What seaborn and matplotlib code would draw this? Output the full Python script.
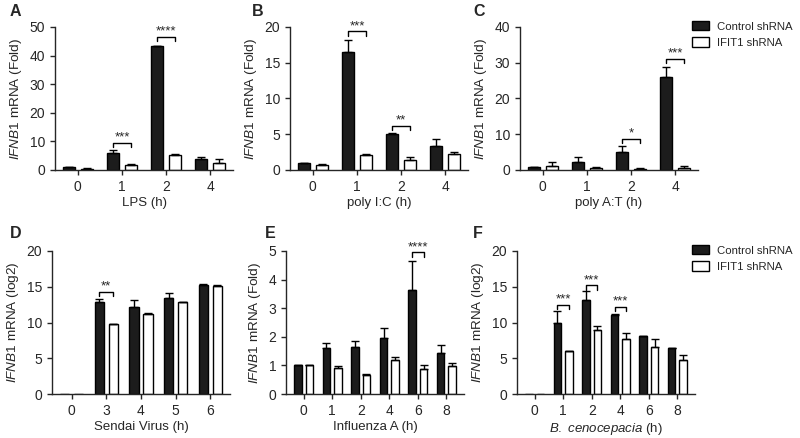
import pandas as pd
import matplotlib
matplotlib.use("Agg")
import matplotlib.pyplot as plt
from matplotlib.patches import Patch
import seaborn as sns

# group names
groups = ["Control shRNA", "IFIT1 shRNA"]

# A: LPS
lps_time = ["0", "1", "2", "4"]
lps_ctrl = [1.0, 6.0, 43.2, 4.0]
lps_ctrl_err = [0.0, 1.0, 0.3, 0.5]
lps_ifit = [0.5, 1.8, 5.2, 2.6]
lps_ifit_err = [0.1, 0.3, 0.3, 1.2]
lps_sig = [(1, 9.5, "***"), (2, 46.5, "****")]

# B: poly I:C
pic_time = ["0", "1", "2", "4"]
pic_ctrl = [1.0, 16.5, 5.1, 3.4]
pic_ctrl_err = [0.0, 1.7, 0.1, 0.9]
pic_ifit = [0.7, 2.1, 1.4, 2.3]
pic_ifit_err = [0.2, 0.2, 0.4, 0.2]
pic_sig = [(1, 19.4, "***"), (2, 6.2, "**")]

# C: poly A:T
pat_time = ["0", "1", "2", "4"]
pat_ctrl = [0.8, 2.1, 5.1, 26.0]
pat_ctrl_err = [0.0, 1.5, 1.5, 2.8]
pat_ifit = [1.2, 0.5, 0.3, 0.5]
pat_ifit_err = [1.0, 0.3, 0.2, 0.6]
pat_sig = [(2, 8.7, "*"), (3, 31.0, "***")]

# D: Sendai virus
sev_time = ["0", "3", "4", "5", "6"]
sev_ctrl = [0.0, 12.8, 12.1, 13.4, 15.3]
sev_ctrl_err = [0.0, 0.5, 1.0, 0.7, 0.05]
sev_ifit = [0.0, 9.8, 11.2, 12.8, 15.1]
sev_ifit_err = [0.0, 0.05, 0.1, 0.1, 0.1]
sev_sig = [(1, 14.3, "**")]

# E: Influenza A
flu_time = ["0", "1", "2", "4", "6", "8"]
flu_ctrl = [1.0, 1.6, 1.65, 1.95, 3.65, 1.45]
flu_ctrl_err = [0.0, 0.2, 0.2, 0.35, 1.0, 0.25]
flu_ifit = [1.0, 0.92, 0.67, 1.18, 0.88, 0.97]
flu_ifit_err = [0.0, 0.05, 0.03, 0.1, 0.15, 0.12]
flu_sig = [(4, 4.95, "****")]

# F: B. cenocepacia
bcen_time = ["0", "1", "2", "4", "6", "8"]
bcen_ctrl = [0.0, 10.0, 13.1, 11.05, 8.05, 6.4]
bcen_ctrl_err = [0.0, 1.6, 1.3, 0.2, 0.05, 0.0]
bcen_ifit = [0.0, 5.95, 8.9, 7.7, 6.6, 4.8]
bcen_ifit_err = [0.0, 0.0, 0.6, 0.8, 1.1, 0.6]
bcen_sig = [(1, 12.45, "***"), (2, 15.2, "***"), (3, 12.2, "***")]

sns.set_style("ticks")
plt.rcParams["font.family"] = ["Liberation Sans", "DejaVu Sans"]
plt.rcParams["mathtext.fontset"] = "custom"
plt.rcParams["mathtext.rm"] = "Liberation Sans"
plt.rcParams["mathtext.it"] = "Liberation Sans:italic"
plt.rcParams["axes.linewidth"] = 1.0
plt.rcParams["xtick.major.width"] = 1.0
plt.rcParams["ytick.major.width"] = 1.0
plt.rcParams["xtick.major.size"] = 3.5
plt.rcParams["ytick.major.size"] = 3.5

palette = {"Control shRNA": "#1c1c1c", "IFIT1 shRNA": "white"}


def draw_panel(ax, times, ctrl, ctrl_err, ifit, ifit_err, ymax, ystep,
               ylabel, xlabel, sig):
    df = pd.DataFrame({
        "time": times * 2,
        "group": [groups[0]] * len(times) + [groups[1]] * len(times),
        "value": ctrl + ifit,
    })
    sns.barplot(data=df, x="time", y="value", hue="group", order=times,
                hue_order=groups, palette=palette, edgecolor="black",
                linewidth=1.0, errorbar=None, gap=0.33, legend=False, ax=ax)

    # one-sided error bars
    centres = []
    for cont, vals, errs in zip(ax.containers, [ctrl, ifit], [ctrl_err, ifit_err]):
        xs = []
        for patch, v, e in zip(cont.patches, vals, errs):
            x = patch.get_x() + patch.get_width() / 2
            xs.append(x)
            if v > 0:
                ax.errorbar(x, v, yerr=[[0], [e]], color="black", lw=1.0,
                            capsize=3, capthick=1.0, zorder=1)
        centres.append(xs)

    # significance brackets
    d = ymax * 0.03
    for i, h, stars in sig:
        x1, x2 = centres[0][i], centres[1][i]
        ax.plot([x1, x1, x2, x2], [h - d, h, h, h - d], color="black",
                lw=1.0, clip_on=False)
        ax.text((x1 + x2) / 2, h - ymax * 0.005, stars, ha="center",
                va="bottom", fontsize=9.5, clip_on=False)

    ax.set_ylim(0, ymax)
    ax.set_yticks(range(0, ymax + 1, ystep))
    ax.set_ylabel(ylabel, fontsize=9.7)
    ax.set_xlabel(xlabel, fontsize=9.5, labelpad=2.5)
    ax.tick_params(labelsize=10)
    sns.despine(ax=ax)


fig = plt.figure(figsize=(8, 4.38), dpi=100)

W = 178 / 800
H = 143 / 438
top_b = 1 - 170 / 438
bot_b = 1 - 394 / 438

axA = fig.add_axes([55 / 800, top_b, W, H])
axB = fig.add_axes([290 / 800, top_b, W, H])
axC = fig.add_axes([520 / 800, top_b, W, H])
axD = fig.add_axes([52 / 800, bot_b, W, H])
axE = fig.add_axes([286 / 800, bot_b, W, H])
axF = fig.add_axes([517 / 800, bot_b, W, H])

fold = r"$\mathit{IFNB1}$ mRNA (Fold)"
log2 = r"$\mathit{IFNB1}$ mRNA (log2)"

draw_panel(axA, lps_time, lps_ctrl, lps_ctrl_err, lps_ifit, lps_ifit_err,
           50, 10, fold, "LPS (h)", lps_sig)
draw_panel(axB, pic_time, pic_ctrl, pic_ctrl_err, pic_ifit, pic_ifit_err,
           20, 5, fold, "poly I:C (h)", pic_sig)
draw_panel(axC, pat_time, pat_ctrl, pat_ctrl_err, pat_ifit, pat_ifit_err,
           40, 10, fold, "poly A:T (h)", pat_sig)
draw_panel(axD, sev_time, sev_ctrl, sev_ctrl_err, sev_ifit, sev_ifit_err,
           20, 5, log2, "Sendai Virus (h)", sev_sig)
draw_panel(axE, flu_time, flu_ctrl, flu_ctrl_err, flu_ifit, flu_ifit_err,
           5, 1, fold, "Influenza A (h)", flu_sig)
draw_panel(axF, bcen_time, bcen_ctrl, bcen_ctrl_err, bcen_ifit, bcen_ifit_err,
           20, 5, log2, r"$\mathit{B.}$ $\mathit{cenocepacia}$ (h)", bcen_sig)

# panel letters
for letter, x, y in [("A", 10, 12), ("B", 252, 12), ("C", 473, 12),
                     ("D", 10, 233), ("E", 265, 233), ("F", 473, 234)]:
    fig.text(x / 800, 1 - y / 438, letter, fontsize=11.5, fontweight="bold",
             ha="left", va="center")

# legends
handles = [Patch(facecolor=palette[g], edgecolor="black", linewidth=1.0)
           for g in groups]
for y in [21, 245]:
    fig.legend(handles, groups, loc="upper left",
               bbox_to_anchor=(692 / 800, 1 - y / 438), frameon=False,
               fontsize=8.2, handlelength=1.5, handleheight=0.9,
               handletextpad=0.7, labelspacing=0.5, borderaxespad=0,
               borderpad=0)

fig.savefig("out.png", dpi=100)
